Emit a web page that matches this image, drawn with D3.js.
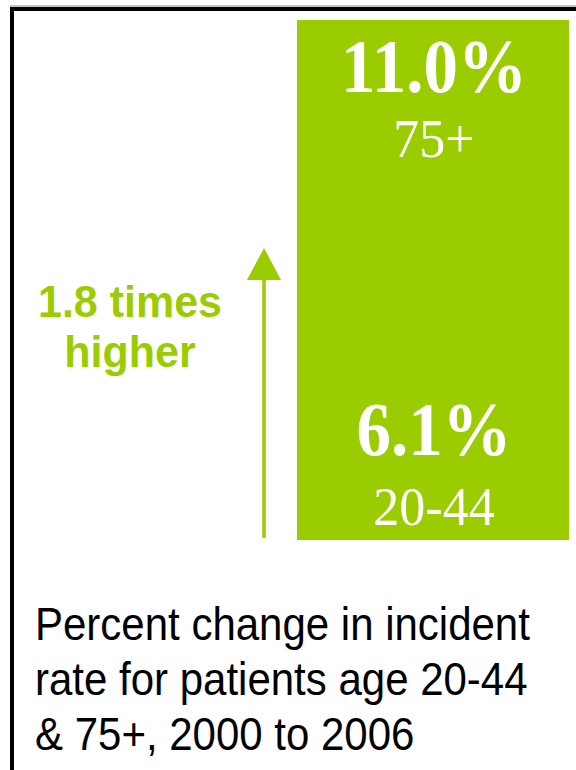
<!DOCTYPE html>
<html>
<head>
<meta charset="utf-8">
<script src="https://cdn.jsdelivr.net/npm/d3@7"></script>
<style>
  html, body { margin: 0; padding: 0; background: #fff; }
  svg { display: block; }
</style>
</head>
<body>
<svg id="chart" width="576" height="770"></svg>
<script>
// Age groups and their percent change in incident rate, 2000 to 2006
const ageGroups = ["75+", "20-44"];
const pctChange = [11.0, 6.1];
const captionLines = [
  "Percent change in incident",
  "rate for patients age 20-44",
  "& 75+, 2000 to 2006"
];

const green = "#9bcc00";
const svg = d3.select("#chart");

// Frame: top rule and left rule
svg.append("line").attr("x1", 10).attr("x2", 576).attr("y1", 6).attr("y2", 6)
  .attr("stroke", "#888").attr("stroke-width", 1);
svg.append("rect").attr("x", 10).attr("y", 7).attr("width", 566).attr("height", 4).attr("fill", "#000");
svg.append("rect").attr("x", 10).attr("y", 7).attr("width", 4).attr("height", 763).attr("fill", "#000");

// Vertical placement of each group's labels
const yVal = d3.scalePoint().domain(ageGroups).range([92, 455]);
const yLab = d3.scalePoint().domain(ageGroups).range([157, 525]);

// Green panel holding both values
const panel = { x0: 297, x1: 569, y0: 20, y1: 540 };
svg.append("rect")
  .attr("x", panel.x0).attr("y", panel.y0)
  .attr("width", panel.x1 - panel.x0).attr("height", panel.y1 - panel.y0)
  .attr("fill", green);

const cx = 434;
const fmt = d3.format(".1f");
const rows = ageGroups.map((g, i) => ({ group: g, value: pctChange[i] }));

// Text drawn slightly taller than its width, anchored at its baseline
const place = (x, y, sy) => `translate(${x},${y}) scale(1,${sy})`;

svg.selectAll("text.val").data(rows).join("text")
  .attr("class", "val")
  .attr("transform", d => place(cx, yVal(d.group), 1.1))
  .attr("text-anchor", "middle")
  .attr("font-family", "'Liberation Serif', 'Times New Roman', serif")
  .attr("font-weight", "bold").attr("font-size", 69)
  .attr("fill", "#fff")
  .text(d => fmt(d.value) + "%");

svg.selectAll("text.grp").data(rows).join("text")
  .attr("class", "grp")
  .attr("transform", d => place(cx, yLab(d.group), 1.05))
  .attr("text-anchor", "middle")
  .attr("font-family", "'Liberation Serif', 'Times New Roman', serif")
  .attr("font-size", 52)
  .attr("fill", "#fff")
  .text(d => d.group);

// Upward arrow from the younger group to the older group
const ax = 264;
svg.append("rect").attr("x", ax - 1.75).attr("y", 278).attr("width", 3.5).attr("height", 260).attr("fill", green);
svg.append("path")
  .attr("d", d3.line()([[ax, 248], [ax + 17, 280], [ax - 17, 280]]) + "Z")
  .attr("fill", green);

// Ratio of the two percent changes
const ratio = fmt(pctChange[0] / pctChange[1]);
const ratioLines = [ratio + " times", "higher"];
svg.selectAll("text.ratio").data(ratioLines).join("text")
  .attr("class", "ratio")
  .attr("transform", (d, i) => place(130, 317 + i * 50, 1.04))
  .attr("text-anchor", "middle")
  .attr("font-family", "'Liberation Sans', Arial, sans-serif")
  .attr("font-weight", "bold").attr("font-size", 43)
  .attr("fill", green)
  .text(d => d);

// Caption
svg.selectAll("text.cap").data(captionLines).join("text")
  .attr("class", "cap")
  .attr("transform", (d, i) => place(35, 640 + i * 55, 1.08))
  .attr("font-family", "'Liberation Sans', Arial, sans-serif")
  .attr("font-size", 42)
  .attr("fill", "#000")
  .text(d => d);
</script>
</body>
</html>
